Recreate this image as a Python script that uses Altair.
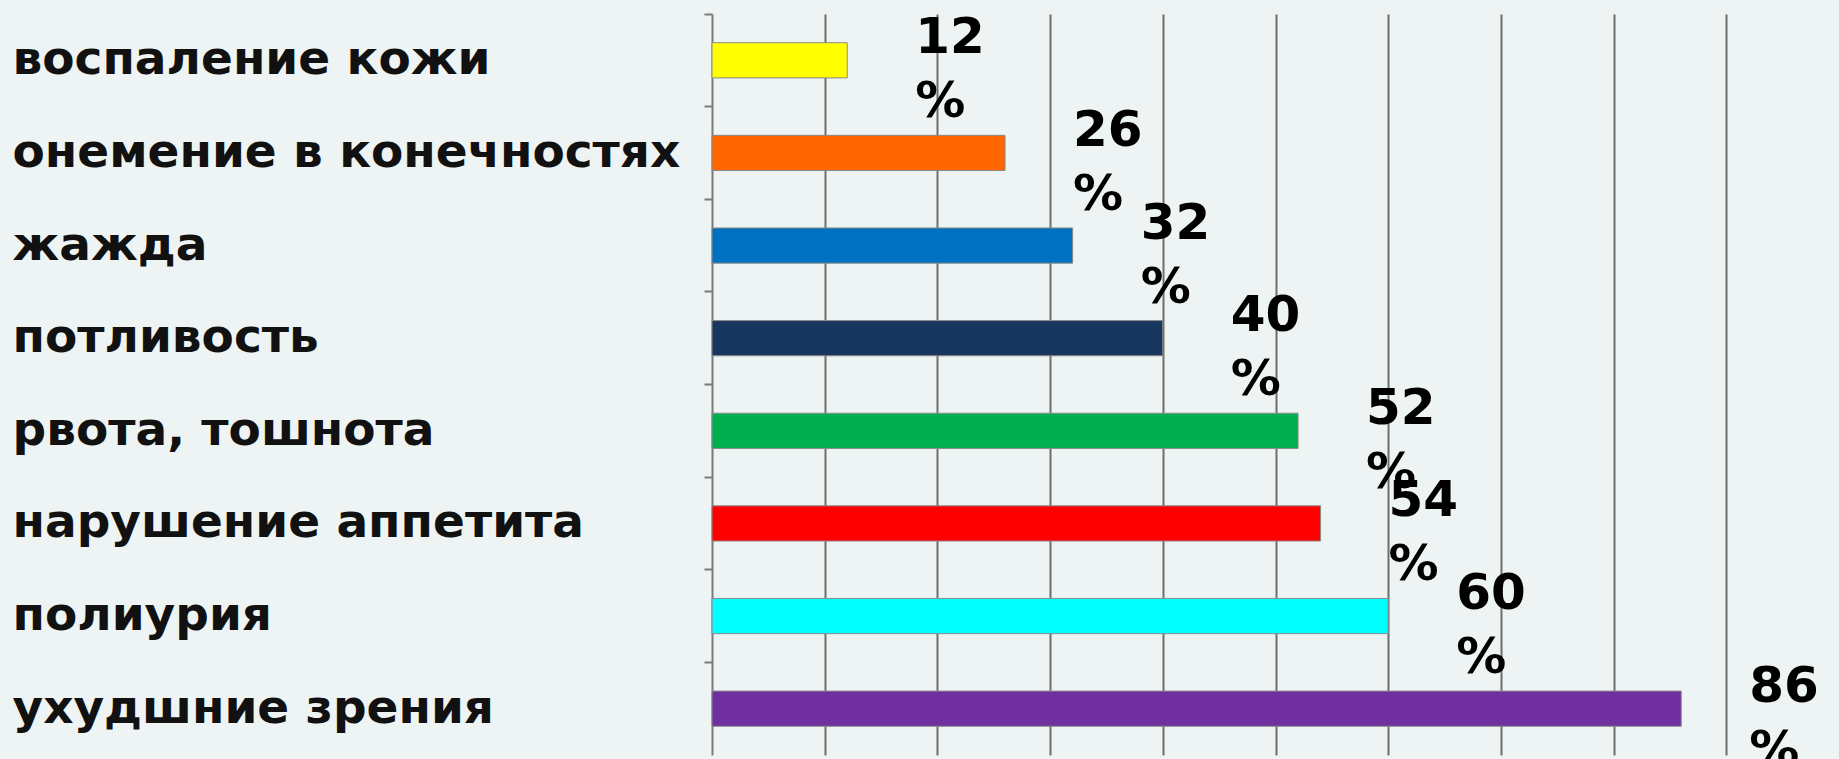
import altair as alt
import pandas as pd

categories = [
    "воспаление кожи",
    "онемение в конечностях",
    "жажда",
    "потливость",
    "рвота, тошнота",
    "нарушение аппетита",
    "полиурия",
    "ухудшние зрения",
]
values = [12, 26, 32, 40, 52, 54, 60, 86]
colors = ["#FFFF00", "#FF6600", "#0070C0", "#17375E", "#00B050", "#FF0000", "#00FFFF", "#7030A0"]

df = pd.DataFrame({
    "cat": categories,
    "value": values,
    "color": colors,
    "label": [f"{v}\n%" for v in values],
})

FONT = "DejaVu Sans"

y_enc = alt.Y(
    "cat:N",
    sort=categories,
    title=None,
    scale=alt.Scale(paddingInner=0, paddingOuter=0),
    axis=alt.Axis(
        bandPosition=0,
        tickSize=8,
        tickColor="#7a7a7a",
        tickWidth=2,
        domainColor="#7a7a7a",
        domainWidth=2,
        labelAlign="left",
        labelBaseline="middle",
        labelPadding=692,
        labelFont=FONT,
        labelFontWeight="bold",
        labelFontSize=47,
        labelColor="#111111",
        labelLimit=1000,
        grid=False,
    ),
)

x_enc = alt.X(
    "value:Q",
    title=None,
    scale=alt.Scale(domain=[0, 100], nice=False),
    axis=alt.Axis(
        values=list(range(10, 100, 10)),
        labels=False,
        ticks=False,
        domain=False,
        grid=True,
        gridColor="#6e6e6e",
        gridWidth=2,
    ),
)

bars = alt.Chart(df).mark_bar(
    height={"band": 0.38}, stroke="#8a8a8a", strokeWidth=1
).encode(
    x=x_enc,
    y=y_enc,
    color=alt.Color("color:N", scale=None),
)

labels = alt.Chart(df).mark_text(
    align="left",
    baseline="middle",
    dx=68,
    dy=-22,
    font=FONT,
    fontWeight="bold",
    fontSize=50,
    lineBreak="\n",
    lineHeight=64,
    color="#000000",
).encode(
    x=alt.X("value:Q", scale=alt.Scale(domain=[0, 100], nice=False)),
    y=alt.Y("cat:N", sort=categories),
    text="label:N",
)

chart = alt.layer(bars, labels).properties(
    width=1127,
    height=741,
    background="#eef4f3",
    padding={"left": 712, "top": 14, "right": 0, "bottom": 4},
    autosize=alt.AutoSizeParams(type="none"),
).configure_view(stroke=None)

chart.save("out.html", embed_options={"renderer": "svg", "actions": False})
